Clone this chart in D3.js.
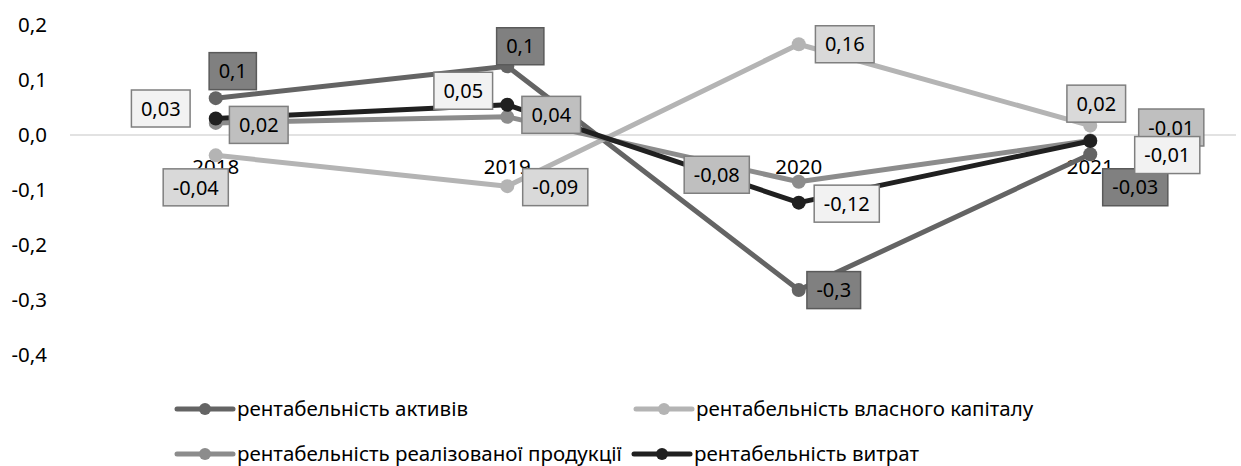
<!DOCTYPE html>
<html>
<head>
<meta charset="utf-8">
<script src="https://cdn.jsdelivr.net/npm/d3@7"></script>
<style>
  html, body { margin: 0; padding: 0; background: #fff; }
  svg { display: block; font-family: "Noto Sans", "Open Sans", sans-serif; }
</style>
</head>
<body>
<svg id="chart" width="1241" height="466"></svg>
<script>
// ---- data ----
const categories = ["2018", "2019", "2020", "2021"];
const seriesNames = [
  "рентабельність активів",
  "рентабельність власного капіталу",
  "рентабельність реалізованої продукції",
  "рентабельність витрат"
];
const assetsValues   = [0.067, 0.125, -0.282, -0.035];
const equityValues   = [-0.037, -0.093, 0.165, 0.017];
const productValues  = [0.022, 0.033, -0.085, -0.010];
const costValues     = [0.030, 0.055, -0.123, -0.011];
const assetsLabels   = ["0,1", "0,1", "-0,3", "-0,03"];
const equityLabels   = ["-0,04", "-0,09", "0,16", "0,02"];
const productLabels  = ["0,02", "0,04", "-0,08", "-0,01"];
const costLabels     = ["0,03", "0,05", "-0,12", "-0,01"];
const yTicks = [-0.4, -0.3, -0.2, -0.1, 0.0, 0.1, 0.2];
const yTickLabels = ["-0,4", "-0,3", "-0,2", "-0,1", "0,0", "0,1", "0,2"];

// ---- styles ----
const lineColors = ["#646464", "#b4b4b4", "#8c8c8c", "#202020"];
const boxFills   = ["#808080", "#d9d9d9", "#bfbfbf", "#f2f2f2"];
const boxStrokes = ["#5a5a5a", "#7f7f7f", "#7f7f7f", "#7f7f7f"];
// label box offsets (box centre relative to point)
const labelOffsets = [
  [[17, -27], [13, -20], [35, 0], [45, 33]],
  [[-20, 32], [48, 1], [46, 0], [6, -22]],
  [[43, 2], [44, -2], [-82, -7], [81, -13]],
  [[-55, -10], [-44, -14], [48, 1], [77, 14]]
];

const values = [assetsValues, equityValues, productValues, costValues];
const labels = [assetsLabels, equityLabels, productLabels, costLabels];

const FS = 20.5;
const svg = d3.select("#chart");
const x = d3.scaleBand().domain(categories).range([70, 1236]).padding(0);
const y = d3.scaleLinear().domain([-0.4, 0.2]).range([355, 25]);
const cx = c => x(c) + x.bandwidth() / 2;

// zero gridline
svg.append("line")
  .attr("x1", 70).attr("x2", 1236)
  .attr("y1", y(0)).attr("y2", y(0))
  .attr("stroke", "#d9d9d9").attr("stroke-width", 1.5);

// y axis labels
const yAxis = d3.axisLeft(y).tickValues(yTicks)
  .tickFormat((d, i) => yTickLabels[i]).tickSize(0).tickPadding(0);
const yg = svg.append("g").attr("transform", "translate(47,0)").call(yAxis);
yg.select(".domain").remove();
yg.selectAll("text").attr("font-size", FS).attr("fill", "#000")
  .attr("font-family", "Noto Sans, sans-serif");

// category labels next to zero axis
const xAxis = d3.axisBottom(x).tickSize(0).tickPadding(0);
const xg = svg.append("g").attr("transform", `translate(0,${y(0) + 32})`).call(xAxis);
xg.select(".domain").remove();
xg.selectAll("text").attr("font-size", FS).attr("fill", "#000")
  .attr("font-family", "Noto Sans, sans-serif").attr("dy", "0.35em").attr("y", 0);

// lines + markers
const line = d3.line().x((d, i) => cx(categories[i])).y(d => y(d));
values.forEach((vals, s) => {
  const g = svg.append("g");
  g.append("path").datum(vals)
    .attr("d", line).attr("fill", "none")
    .attr("stroke", lineColors[s]).attr("stroke-width", 5)
    .attr("stroke-linejoin", "round");
  g.selectAll("circle").data(vals).enter().append("circle")
    .attr("cx", (d, i) => cx(categories[i])).attr("cy", d => y(d))
    .attr("r", 7).attr("fill", lineColors[s]);
});

// data labels
values.forEach((vals, s) => {
  vals.forEach((v, i) => {
    const px = cx(categories[i]) + labelOffsets[s][i][0];
    const py = y(v) + labelOffsets[s][i][1];
    const g = svg.append("g");
    const rect = g.append("rect");
    const t = g.append("text")
      .attr("x", px).attr("y", py).attr("dy", "0.36em")
      .attr("text-anchor", "middle").attr("font-size", 20).attr("fill", "#000")
      .text(labels[s][i]);
    const w = t.node().getComputedTextLength() + 19;
    const h = 37;
    rect.attr("x", px - w / 2).attr("y", py - h / 2)
      .attr("width", w).attr("height", h)
      .attr("fill", boxFills[s]).attr("stroke", boxStrokes[s]).attr("stroke-width", 1.5);
  });
});

// legend
const legendPos = [[177, 409], [636, 409], [177, 454], [634, 454]];
seriesNames.forEach((name, s) => {
  const [lx, ly] = legendPos[s];
  const g = svg.append("g");
  g.append("line").attr("x1", lx).attr("x2", lx + 56).attr("y1", ly).attr("y2", ly)
    .attr("stroke", lineColors[s]).attr("stroke-width", 5).attr("stroke-linecap", "round");
  g.append("circle").attr("cx", lx + 28).attr("cy", ly).attr("r", 6).attr("fill", lineColors[s]);
  g.append("text").attr("x", lx + 60).attr("y", ly).attr("dy", "0.35em")
    .attr("font-size", FS).attr("fill", "#000").text(name);
});
</script>
</body>
</html>
